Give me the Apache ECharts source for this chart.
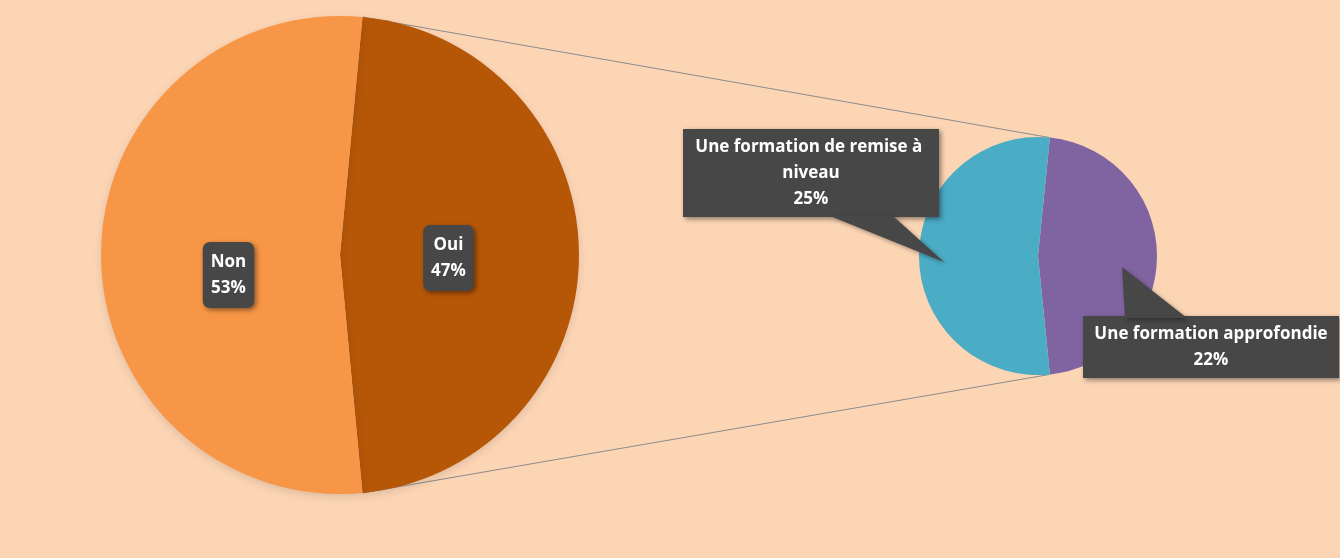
<!DOCTYPE html>
<html>
<head>
<meta charset="utf-8">
<script src="https://cdn.jsdelivr.net/npm/echarts@6/dist/echarts.min.js"></script>
<style>
    html, body { margin: 0; padding: 0; background: #FCD5B5; }
    #main { width: 1340px; height: 558px; }
</style>
</head>
<body>
<div id="main"></div>
<script>
// données
var mainNames = ['Oui', 'Non'];
var mainValues = [47, 53];
var subNames = ['Une formation approfondie', 'Une formation de remise à niveau'];
var subValues = [22, 25];

(function () {
    var myChart = echarts.init(document.getElementById('main'));

    // géométrie des deux camemberts
    var big = { cx: 340, cy: 255, r: 239 };
    var small = { cx: 1038, cy: 256, r: 119 };

    var total = mainValues[0] + mainValues[1];
    var subTotal = subValues[0] + subValues[1];
    // la part "Oui" centrée sur 3 heures
    var bigStart = mainValues[0] / total * 180;
    var smallStart = subValues[0] / subTotal * 180;

    function pt(c, angleDeg) {
        var a = angleDeg * Math.PI / 180;
        return [c.cx + c.r * Math.cos(a), c.cy - c.r * Math.sin(a)];
    }

    var boxColor = '#474747';
    var labelFont = '"Open Sans", sans-serif';

    // lignes de liaison
    var lines = [
        [pt(big, bigStart), pt(small, smallStart)],
        [pt(big, -bigStart), pt(small, -smallStart)]
    ];

    // pointes des bulles (relatif au petit camembert)
    var wedges = [
        [[-208, -40], [-145, -40], [-94, 6]],
        [[87, 62], [149, 62], [84, 11]]
    ];
    var labelPos = [[173, 91], [-227, -83]];
    // petit décalage des étiquettes du grand camembert
    var bigShift = [[-14, 3], [11, 20]];

    var graphics = [];
    lines.forEach(function (l) {
        graphics.push({
            type: 'line',
            z: 1,
            shape: { x1: l[0][0], y1: l[0][1], x2: l[1][0], y2: l[1][1] },
            style: { stroke: '#8c8c8c', lineWidth: 1 }
        });
    });
    wedges.forEach(function (w) {
        graphics.push({
            type: 'polygon',
            z: 100,
            shape: {
                points: w.map(function (p) { return [small.cx + p[0], small.cy + p[1]]; })
            },
            style: {
                fill: boxColor,
                shadowColor: 'rgba(0,0,0,0.35)',
                shadowBlur: 4,
                shadowOffsetX: 2,
                shadowOffsetY: 2
            }
        });
    });

    var boxShadow = {
        shadowColor: 'rgba(0,0,0,0.45)',
        shadowBlur: 5,
        shadowOffsetX: 2,
        shadowOffsetY: 2
    };

    var option = {
        backgroundColor: '#FCD5B5',
        animation: false,
        graphic: graphics,
        series: [
            {
                name: 'Réponse',
                type: 'pie',
                center: [big.cx, big.cy],
                radius: [0, big.r],
                startAngle: bigStart,
                clockwise: true,
                color: ['#B65708', '#F79646'],
                itemStyle: {
                    borderWidth: 0,
                    shadowColor: 'rgba(0,0,0,0.12)',
                    shadowBlur: 8,
                    shadowOffsetY: 3
                },
                label: Object.assign({
                    position: 'inside',
                    formatter: '{b}\n{c}%',
                    color: '#fff',
                    fontFamily: labelFont,
                    fontWeight: 'bold',
                    fontSize: 17,
                    lineHeight: 26,
                    backgroundColor: boxColor,
                    borderRadius: 7,
                    padding: [8, 8, 6, 8]
                }, boxShadow),
                labelLayout: function (params) {
                    var s = bigShift[params.dataIndex];
                    return { dx: s[0], dy: s[1] };
                },
                labelLine: { show: false },
                emphasis: { disabled: true },
                data: mainNames.map(function (n, i) {
                    return { name: n, value: mainValues[i] };
                })
            },
            {
                name: 'Formation',
                type: 'pie',
                z: 3,
                center: [small.cx, small.cy],
                radius: [0, small.r],
                startAngle: smallStart,
                clockwise: true,
                color: ['#8064A2', '#4BACC6'],
                label: Object.assign({
                    position: 'inside',
                    formatter: '{b}\n{c}%',
                    color: '#fff',
                    fontFamily: labelFont,
                    fontWeight: 'bold',
                    fontSize: 17,
                    lineHeight: 26,
                    width: 248,
                    overflow: 'break',
                    align: 'center',
                    backgroundColor: boxColor,
                    padding: [6, 4, 4, 4]
                }, boxShadow),
                labelLayout: function (params) {
                    var p = labelPos[params.dataIndex];
                    return {
                        x: small.cx + p[0],
                        y: small.cy + p[1],
                        align: 'center',
                        verticalAlign: 'middle'
                    };
                },
                labelLine: { show: false },
                emphasis: { disabled: true },
                data: subNames.map(function (n, i) {
                    return { name: n, value: subValues[i] };
                })
            }
        ]
    };

    myChart.setOption(option);

    window.addEventListener('resize', function () {
        myChart.resize();
    });
})();
</script>
</body>
</html>
